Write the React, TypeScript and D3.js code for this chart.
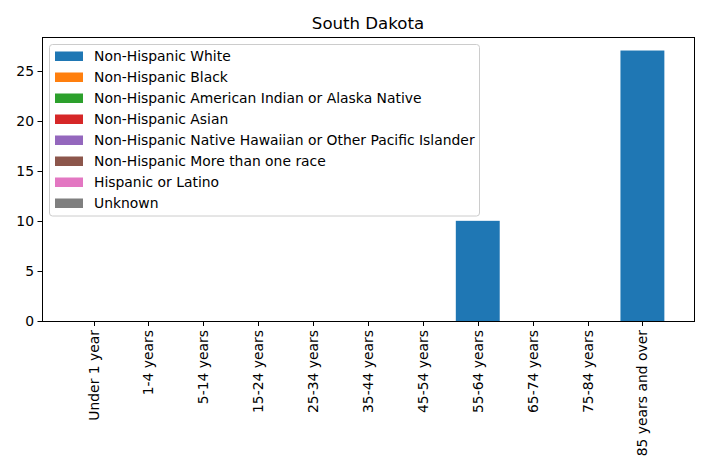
import { useEffect, useRef } from 'react';
import * as d3 from 'd3';

const AGE_GROUPS = [
  'Under 1 year', '1-4 years', '5-14 years', '15-24 years', '25-34 years',
  '35-44 years', '45-54 years', '55-64 years', '65-74 years', '75-84 years',
  '85 years and over',
];

const RACES = [
  'Non-Hispanic White',
  'Non-Hispanic Black',
  'Non-Hispanic American Indian or Alaska Native',
  'Non-Hispanic Asian',
  'Non-Hispanic Native Hawaiian or Other Pacific Islander',
  'Non-Hispanic More than one race',
  'Hispanic or Latino',
  'Unknown',
];

const COLORS = ['#1f77b4', '#ff7f0e', '#2ca02c', '#d62728', '#9467bd', '#8c564b', '#e377c2', '#7f7f7f'];

const WHITE = [0, 0, 0, 0, 0, 0, 0, 10, 0, 0, 27];
const BLACK = [0, 0, 0, 0, 0, 0, 0, 0, 0, 0, 0];
const AIAN = [0, 0, 0, 0, 0, 0, 0, 0, 0, 0, 0];
const ASIAN = [0, 0, 0, 0, 0, 0, 0, 0, 0, 0, 0];
const NHOPI = [0, 0, 0, 0, 0, 0, 0, 0, 0, 0, 0];
const MULTI = [0, 0, 0, 0, 0, 0, 0, 0, 0, 0, 0];
const HISPANIC = [0, 0, 0, 0, 0, 0, 0, 0, 0, 0, 0];
const UNKNOWN = [0, 0, 0, 0, 0, 0, 0, 0, 0, 0, 0];

const SERIES = [WHITE, BLACK, AIAN, ASIAN, NHOPI, MULTI, HISPANIC, UNKNOWN];
const Y_TICKS = [0, 5, 10, 15, 20, 25];

export default function App() {
  const svgRef = useRef<SVGSVGElement>(null);

  useEffect(() => {
    if (!svgRef.current) return;
    const svg = d3.select(svgRef.current);
    svg.selectAll('*').remove();

    const font = 'DejaVu Sans, sans-serif';
    const fs = '13.9px';
    const left = 42, right = 694, top = 37, bottom = 321;

    // stacked totals per category
    const totals = AGE_GROUPS.map((_, i) => d3.sum(SERIES, s => s[i]));
    const yMax = (d3.max(totals) as number) * 1.05;

    const n = AGE_GROUPS.length;
    const barW = 0.8;
    const pad = (n - 1 + barW) * 0.05;
    const x = d3.scaleLinear().domain([-barW / 2 - pad, n - 1 + barW / 2 + pad]).range([left, right]);
    const y = d3.scaleLinear().domain([0, yMax]).range([bottom, top]);

    // bars
    const base = AGE_GROUPS.map(() => 0);
    SERIES.forEach((s, si) => {
      const g = svg.append('g');
      s.forEach((v, i) => {
        const y0 = base[i];
        const y1 = y0 + v;
        base[i] = y1;
        if (v <= 0) return;
        g.append('rect')
          .attr('x', x(i - barW / 2))
          .attr('width', x(i + barW / 2) - x(i - barW / 2))
          .attr('y', y(y1))
          .attr('height', y(y0) - y(y1))
          .attr('fill', COLORS[si]);
      });
    });

    // axes frame
    svg.append('rect')
      .attr('x', left + 0.5).attr('y', top + 0.5)
      .attr('width', right - left).attr('height', bottom - top)
      .attr('fill', 'none').attr('stroke', '#000').attr('stroke-width', 1);

    // y ticks
    Y_TICKS.forEach(t => {
      const ty = Math.round(y(t)) + 0.5;
      svg.append('line')
        .attr('x1', left - 4.5).attr('x2', left)
        .attr('y1', ty).attr('y2', ty)
        .attr('stroke', '#000');
      svg.append('text')
        .attr('x', left - 8).attr('y', y(t))
        .attr('text-anchor', 'end').attr('dominant-baseline', 'central')
        .attr('font-family', font).attr('font-size', fs)
        .text(t);
    });

    // x ticks
    AGE_GROUPS.forEach((a, i) => {
      const tx = Math.round(x(i)) + 0.5;
      svg.append('line')
        .attr('x1', tx).attr('x2', tx)
        .attr('y1', bottom).attr('y2', bottom + 5)
        .attr('stroke', '#000');
      svg.append('text')
        .attr('transform', `translate(${x(i)},${bottom + 9}) rotate(-90)`)
        .attr('text-anchor', 'end').attr('dominant-baseline', 'central')
        .attr('font-family', font).attr('font-size', fs)
        .text(a);
    });

    // title
    svg.append('text')
      .attr('x', (left + right) / 2).attr('y', 29)
      .attr('text-anchor', 'middle')
      .attr('font-family', font).attr('font-size', '16.6px')
      .text('South Dakota');

    // legend
    const lg = svg.append('g');
    lg.append('rect')
      .attr('x', 49.5).attr('y', 44.5)
      .attr('width', 430).attr('height', 171.5)
      .attr('rx', 3)
      .attr('fill', 'rgba(255,255,255,0.8)').attr('stroke', '#ccc');
    RACES.forEach((r, i) => {
      const cy = 56 + i * 21;
      lg.append('rect')
        .attr('x', 55).attr('y', cy - 4.5)
        .attr('width', 28).attr('height', 9.5)
        .attr('fill', COLORS[i]);
      lg.append('text')
        .attr('x', 94).attr('y', cy)
        .attr('dominant-baseline', 'central')
        .attr('font-family', font).attr('font-size', fs)
        .text(r);
    });
  }, []);

  return (
    <svg ref={svgRef} width={708} height={472}
      style={{ position: 'absolute', left: 0, top: 0, background: '#fff' }} />
  );
}
